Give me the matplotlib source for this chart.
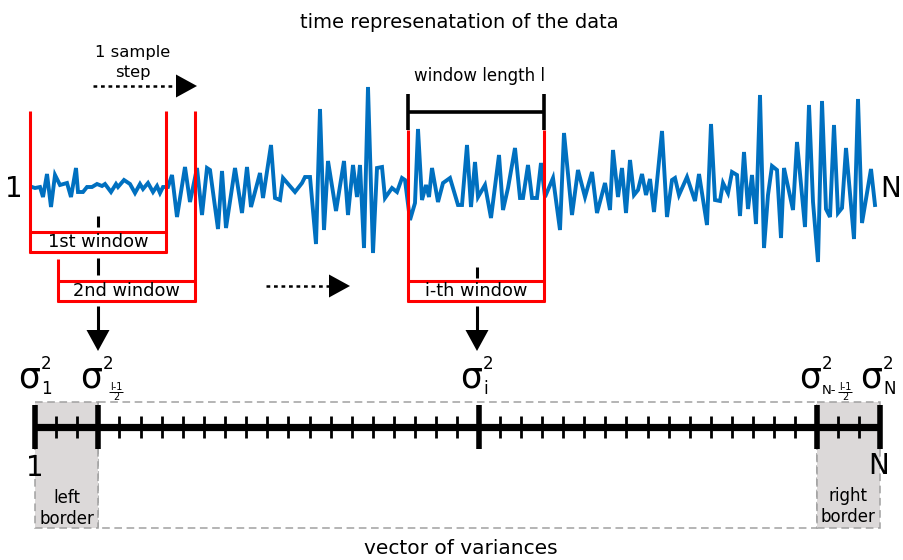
import matplotlib.pyplot as plt
from matplotlib.patches import Rectangle, Polygon

plt.rcParams['font.family'] = ['DejaVu Sans']

# signal: sample position (px) and level (px, top = 0)
sig_t = [32, 35, 40, 43, 47, 51, 55, 60, 67, 71, 76, 78, 83, 87, 92, 97, 102, 105, 111, 116,
         118, 124, 130, 135, 140, 143, 148, 153, 157, 160, 163,
         168, 172, 177, 185, 190, 197, 202, 207, 210, 218, 222, 226, 235, 242, 247, 251, 260,
         263, 271, 275, 280, 283, 295, 302, 305,
         310, 316, 320, 324, 328, 336, 344, 348, 353, 357, 360, 364, 368, 373, 377, 382, 385,
         392, 397, 402, 405, 410, 415, 418, 422, 426, 429, 432, 438, 443,
         450, 458, 462, 467, 471, 475, 478, 485, 491, 499, 503, 508, 515, 520, 523, 528, 532,
         537, 541, 545, 553, 560, 564, 572, 578, 585,
         592, 597, 605, 610, 613, 618, 622, 626, 630, 634, 638, 642, 646, 650, 654, 662, 667,
         672, 675, 679, 687, 695, 699, 707, 711, 715, 720, 723,
         728, 732, 737, 740, 744, 748, 752, 756, 760, 764, 768, 772, 777, 781, 784, 793, 797,
         805, 809, 813, 818, 822, 826, 830, 834, 838, 842, 846, 854, 858, 862, 871, 875]
sig_y = [187, 188, 187, 197, 174, 207, 175, 185, 183, 197, 168, 192, 192, 187, 187, 184, 186, 184, 192, 184,
         187, 180, 184, 193, 184, 189, 183, 192, 186, 193, 187,
         187, 175, 217, 167, 202, 168, 215, 168, 170, 229, 171, 228, 168, 213, 167, 207, 173,
         198, 145, 198, 200, 178, 192, 183, 177,
         177, 244, 109, 230, 161, 211, 161, 215, 165, 197, 165, 248, 87, 253, 168, 167, 198,
         188, 192, 178, 180, 220, 203, 129, 200, 185, 197, 168, 202, 183,
         178, 205, 205, 145, 207, 162, 197, 185, 218, 155, 210, 188, 148, 198, 198, 165, 198,
         198, 163, 197, 178, 230, 133, 215, 170, 197,
         172, 213, 183, 210, 150, 197, 168, 213, 160, 195, 190, 174, 195, 179, 212, 131, 217,
         180, 178, 195, 177, 201, 174, 225, 124, 200, 201, 183,
         193, 172, 175, 216, 152, 209, 175, 224, 95, 248, 195, 166, 170, 238, 168, 210, 142,
         227, 105, 202, 262, 101, 209, 217, 125, 213, 208, 148, 239, 99, 223, 169, 205]

# vector of variances: number of cells and the emphasised ones
n_cells = 40
major_idx = [0, 3, 21, 37, 40]

RED = '#ff0000'
BLUE = '#0070c0'
WIN_FS = 12.8

fig = plt.figure(figsize=(9.04, 5.6), dpi=100)
ax = fig.add_axes([0, 0, 1, 1])
ax.set_xlim(0, 904)
ax.set_ylim(560, 0)
ax.axis('off')


def seg(x0, y0, x1, y1, color='black', lw=2.2, **kw):
    ax.plot([x0, x1], [y0, y1], color=color, lw=lw, solid_capstyle='butt', **kw)


def head(xt, yt, direction, size=21, half=11.5):
    if direction == 'right':
        pts = [(xt, yt), (xt - size, yt - half), (xt - size, yt + half)]
    else:
        pts = [(xt, yt), (xt - half, yt - size), (xt + half, yt - size)]
    ax.add_patch(Polygon(pts, closed=True, color='black', lw=0))


def frac(xc):
    ax.text(xc, 390, 'l-1', ha='center', va='baseline', fontsize=7)
    seg(xc - 7, 391.5, xc + 7, 391.5, lw=0.7)
    ax.text(xc, 400, '2', ha='center', va='baseline', fontsize=7)


def sigma(x, sub='', sub_fs=12):
    ax.text(x, 387, 'σ', ha='left', va='baseline', fontsize=25)
    ax.text(x + 23, 369, '2', ha='left', va='baseline', fontsize=12)
    if sub:
        ax.text(x + 23, 394, sub, ha='left', va='baseline', fontsize=sub_fs)


# title
ax.text(459, 22, 'time represenatation of the data', ha='center', va='center', fontsize=14)

# signal
ax.plot(sig_t, sig_y, color=BLUE, lw=2.8, solid_joinstyle='miter')
ax.text(14, 189, '1', ha='center', va='center', fontsize=20)
ax.text(891, 189, 'N', ha='center', va='center', fontsize=20)

# 1 sample step arrow
ax.text(133, 52, '1 sample', ha='center', va='center', fontsize=11.8)
ax.text(133, 73, 'step', ha='center', va='center', fontsize=11.8)
seg(93, 86, 176, 86, lw=1.8, linestyle=(0, (1.5, 1.5)))
head(197, 86, 'right')

# middle dashed arrow
seg(266, 286, 330, 286, lw=1.8, linestyle=(0, (1.5, 1.5)))
head(350, 286, 'right')

# 1st window
seg(30, 111, 30, 253, color=RED)
seg(166, 111, 166, 253, color=RED)
seg(30, 232, 166, 232, color=RED)
seg(29, 252, 167, 252, color=RED)
ax.text(98, 242, '1st window', ha='center', va='center', fontsize=WIN_FS)

# 2nd window
seg(58, 259, 58, 302, color=RED)
seg(195, 111, 195, 302, color=RED)
seg(58, 281, 195, 281, color=RED)
seg(57, 301, 196, 301, color=RED)
ax.text(126, 291, '2nd window', ha='center', va='center', fontsize=WIN_FS)

# i-th window
seg(408, 94, 408, 130, lw=2.6)
seg(544, 94, 544, 130, lw=2.6)
seg(408, 112, 544, 112, lw=2.6)
seg(408, 130, 408, 302, color=RED)
seg(544, 130, 544, 302, color=RED)
seg(408, 281, 544, 281, color=RED)
seg(407, 301, 545, 301, color=RED)
ax.text(476, 291, 'i-th window', ha='center', va='center', fontsize=WIN_FS)
ax.text(480, 76, 'window length l', ha='center', va='center', fontsize=12)

# window centre markers and arrows down
seg(98, 216, 98, 227)
seg(98, 258, 98, 275)
seg(98, 306, 98, 331)
head(98, 351, 'down')
seg(477, 267, 477, 278)
seg(477, 306, 477, 331)
head(477, 351, 'down')

# vector of variances
x_first, x_last = 35, 880
step = (x_last - x_first) / n_cells
y_axis = 427
ax.add_patch(Rectangle((x_first + major_idx[1] * step, 402),
                       (major_idx[3] - major_idx[1]) * step, 126,
                       facecolor='white', edgecolor='#a0a0a0', lw=1.1, ls=(0, (5, 3))))
ax.add_patch(Rectangle((x_first, 402), major_idx[1] * step, 126,
                       facecolor='#dcd9d9', edgecolor='#a0a0a0', lw=1.1, ls=(0, (5, 3))))
ax.add_patch(Rectangle((x_first + major_idx[3] * step, 402),
                       (major_idx[4] - major_idx[3]) * step, 126,
                       facecolor='#dcd9d9', edgecolor='#a0a0a0', lw=1.1, ls=(0, (5, 3))))
seg(x_first, y_axis, x_last, y_axis, lw=5.2)
for k in range(n_cells + 1):
    xk = x_first + k * step
    if k in major_idx:
        seg(xk, 405, xk, 449, lw=4.0)
    else:
        seg(xk, 416, xk, 438, lw=2.0)

ax.text(35, 468, '1', ha='center', va='center', fontsize=20)
ax.text(879, 466, 'N', ha='center', va='center', fontsize=20)
ax.text(67, 498, 'left', ha='center', va='center', fontsize=12)
ax.text(67, 519, 'border', ha='center', va='center', fontsize=12)
ax.text(848, 496, 'right', ha='center', va='center', fontsize=12)
ax.text(848, 517, 'border', ha='center', va='center', fontsize=12)

# sigma labels
sigma(18, '1')
sigma(80)
frac(116)
sigma(460, 'i')
sigma(799, 'N-', sub_fs=9.5)
frac(845)
sigma(860, 'N')

ax.text(461, 549, 'vector of variances', ha='center', va='center', fontsize=14.5)

fig.savefig('out.png', dpi=100)
